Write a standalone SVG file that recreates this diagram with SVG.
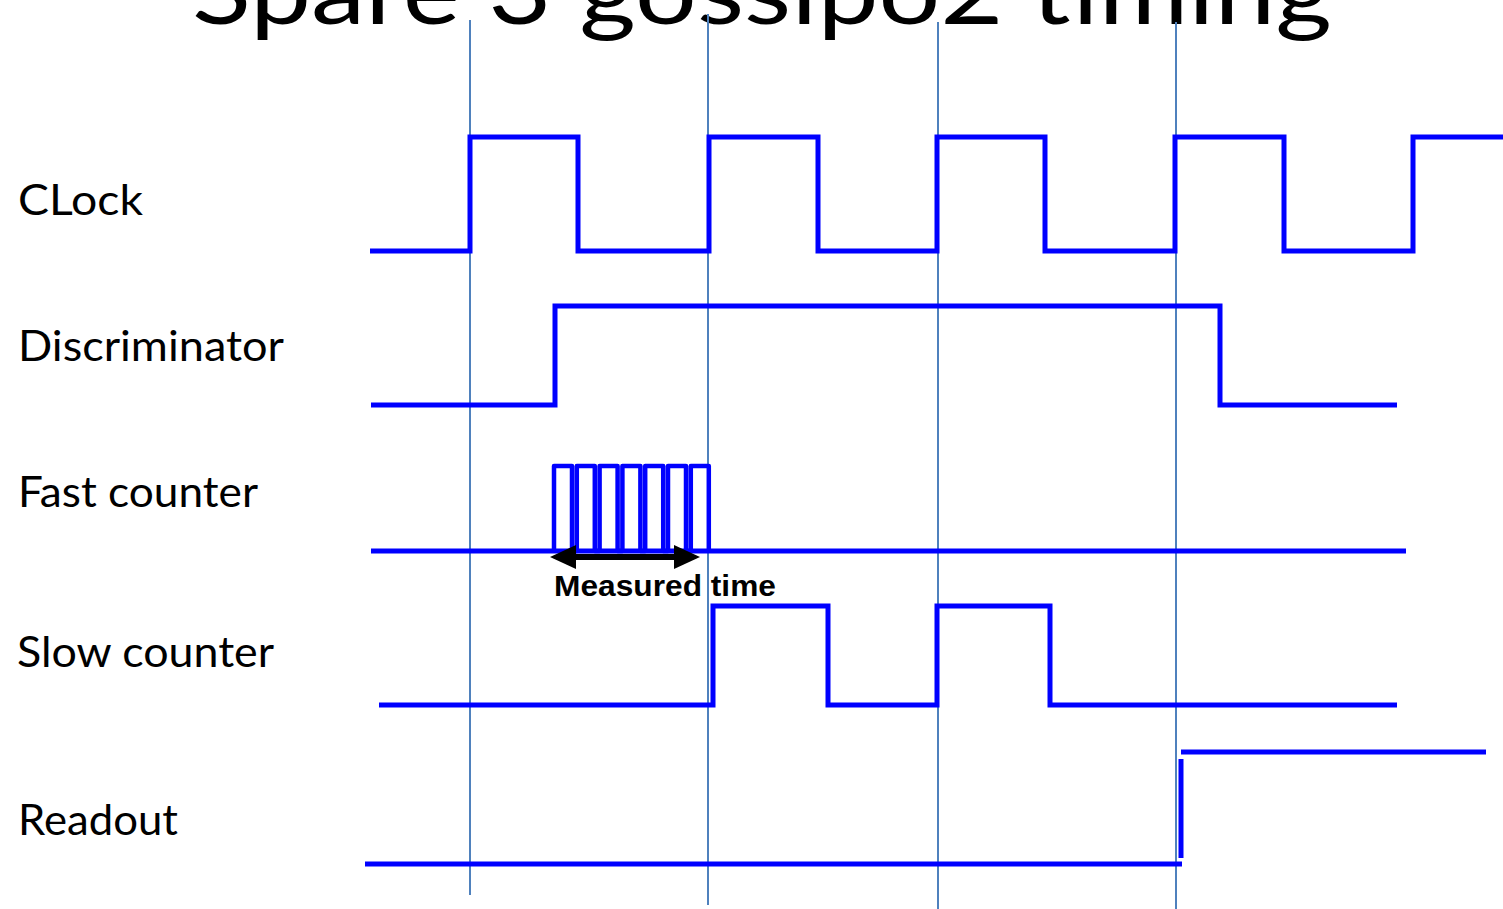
<svg xmlns="http://www.w3.org/2000/svg" width="1503" height="909" viewBox="0 0 1503 909">
<style>
.sig{fill:none;stroke:#0000ff;stroke-width:5;stroke-linejoin:miter;stroke-linecap:butt}
.pulse{fill:none;stroke:#0000ff;stroke-width:4.5;stroke-linejoin:round}
.grid{fill:none;stroke:#4f81bd;stroke-width:2}
.lbl{font-family:Lato,"Open Sans","Liberation Sans",sans-serif;font-size:43px;fill:#000}
.title{font-family:Lato,"Open Sans","Liberation Sans",sans-serif;font-size:92px;fill:#000}
.meas{font-family:"Liberation Sans",Arial,sans-serif;font-weight:bold;font-size:29px;fill:#000}
</style>
<rect width="1503" height="909" fill="#fff"/>
<text class="title" x="192" y="24" textLength="1140" lengthAdjust="spacingAndGlyphs">Spare 3 gossipo2 timing</text>
<g id="labels">
<text class="lbl" x="18" y="215" textLength="125" lengthAdjust="spacingAndGlyphs">CLock</text>
<text class="lbl" x="18" y="361" textLength="266" lengthAdjust="spacingAndGlyphs">Discriminator</text>
<text class="lbl" x="18" y="507" textLength="240" lengthAdjust="spacingAndGlyphs">Fast counter</text>
<text class="lbl" x="17" y="667" textLength="257" lengthAdjust="spacingAndGlyphs">Slow counter</text>
<text class="lbl" x="18" y="835" textLength="160" lengthAdjust="spacingAndGlyphs">Readout</text>
</g>
<g id="gridlines">
<line class="grid" x1="470" y1="20" x2="470" y2="895"/>
<line class="grid" x1="708" y1="14" x2="708" y2="905"/>
<line class="grid" x1="938" y1="22" x2="938" y2="909"/>
<line class="grid" x1="1176" y1="22" x2="1176" y2="909"/>
</g>
<g id="clock">
<path class="sig" d="M370,251 H470 V137 H578 V251 H709 V137 H818 V251 H937 V137 H1045 V251 H1175 V137 H1284 V251 H1413 V137 H1503"/>
</g>
<g id="discriminator">
<path class="sig" d="M371,405 H555 V306 H1220 V405 H1397"/>
</g>
<g id="fastcounter">
<path class="sig" d="M371,551 H1406"/>
<path class="pulse" d="M554,551 V466 H572 V551 H576.8 V466 H594.8 V551 H599.6 V466 H617.6 V551 H622.4 V466 H640.4 V551 H645.2 V466 H663.2 V551 H668 V466 H686 V551 H690.8 V466 H708.8 V551"/>
</g>
<g id="measured">
<line x1="570" y1="557" x2="682" y2="557" stroke="#000" stroke-width="6"/>
<polygon points="550,557 576,545 576,569" fill="#000"/>
<polygon points="700,557 674,545 674,569" fill="#000"/>
<text class="meas" x="554" y="596" textLength="222" lengthAdjust="spacingAndGlyphs">Measured time</text>
</g>
<g id="slowcounter">
<path class="sig" d="M379,705 H713 V606 H828 V705 H937 V606 H1050 V705 H1397"/>
</g>
<g id="readout">
<path class="sig" d="M365,864 H1182"/>
<path class="sig" d="M1181,759 V858"/>
<path class="sig" d="M1181,752 H1486"/>
</g>
</svg>
